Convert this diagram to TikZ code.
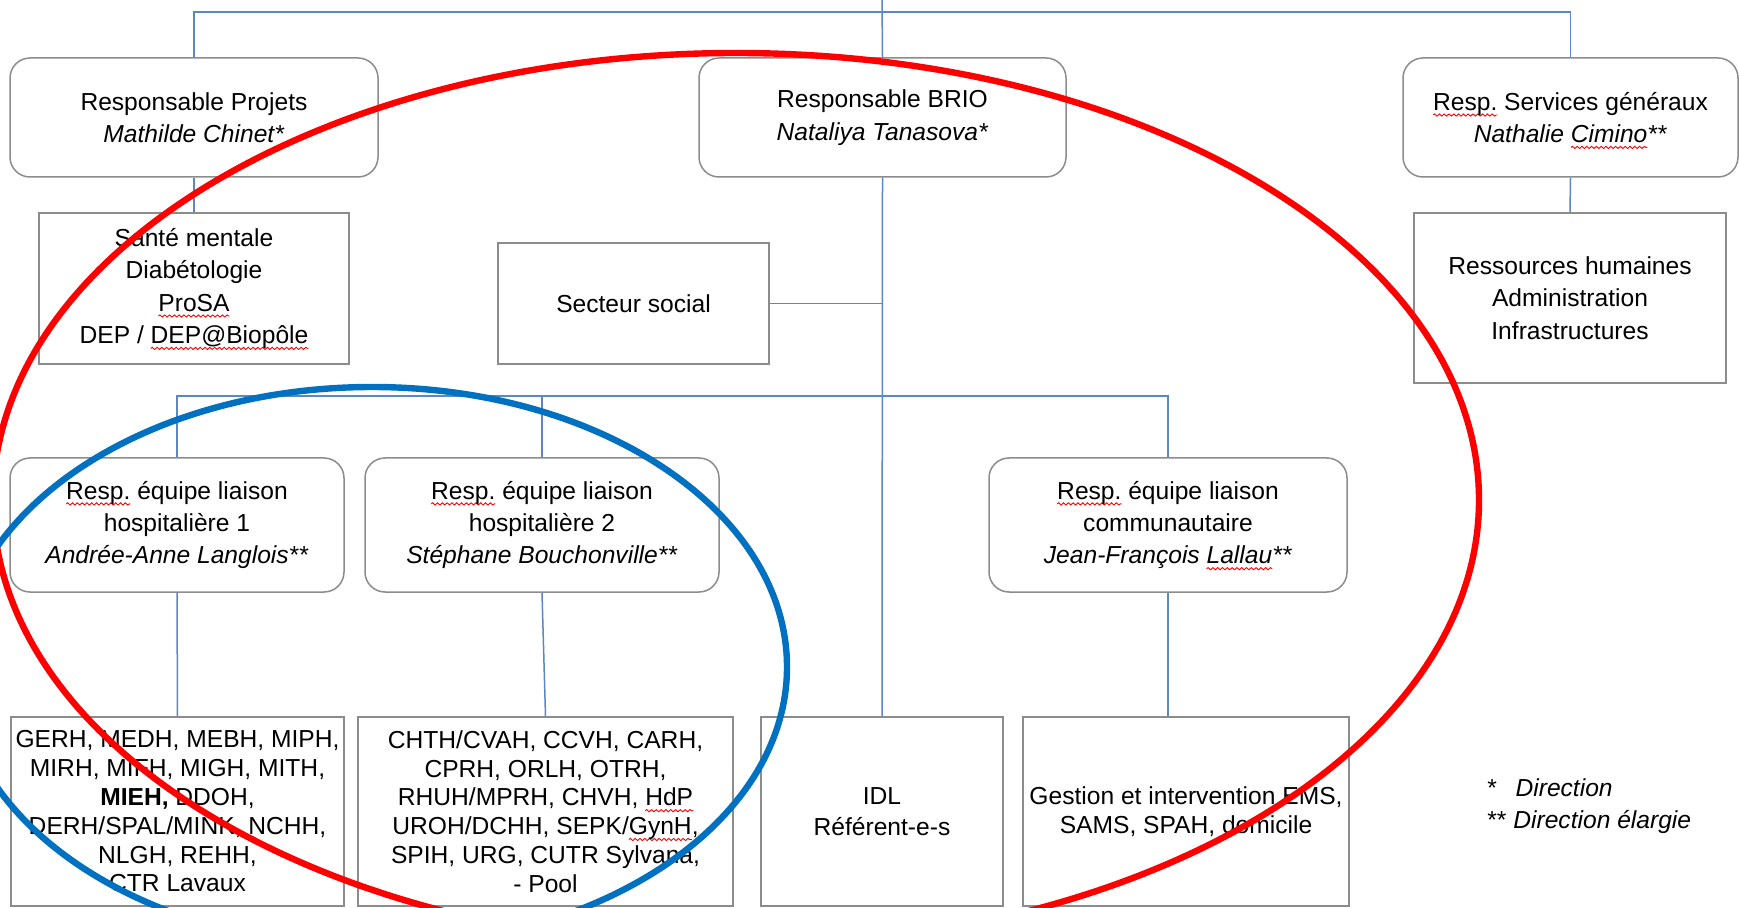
\documentclass[tikz,border=0pt]{standalone}
\usepackage{fontspec}
\setmainfont{Liberation Sans}
\usetikzlibrary{decorations.pathmorphing}
\definecolor{conn}{RGB}{91,135,197}
\definecolor{bord}{RGB}{140,140,140}
\definecolor{ellred}{RGB}{255,0,0}
\definecolor{ellblue}{RGB}{0,112,192}
\newcommand\sqw[1]{\setbox0\hbox{#1}\rlap{\tikz[overlay,baseline=0pt,x=1pt,y=1pt]\draw[ellred, line width=0.45pt, sharp corners, decorate, decoration={snake, amplitude=0.55pt, segment length=2.4pt}] (0pt,-2.4pt) -- (\wd0,-2.4pt);}#1}
\tikzset{
  txt/.style={font=\fontsize{12.3}{16.2}\selectfont\frenchspacing, align=center, inner sep=0pt},
  tight/.style={font=\fontsize{12.3}{14.4}\selectfont\frenchspacing},
  sqbox/.style={txt, draw=bord, line width=0.75pt, fill=white},
  rbox/.style={sqbox, rounded corners=10pt},
  link/.style={draw=conn, line width=0.75pt},
  ell/.style={line width=3.2pt}
}
\begin{document}
\begin{tikzpicture}[x=0.5pt,y=-0.5pt]
\useasboundingbox (0,0) rectangle (1739,908);
\fill[white] (0,0) rectangle (1739,908);
% level 1
\node[rbox, minimum width=184pt, minimum height=59.5pt] (proj) at (194,117.5) {Responsable Projets\\\textit{Mathilde Chinet*}};
\node[rbox, minimum width=183.5pt, minimum height=59.5pt] (brio) at (882.5,117.5) {Responsable BRIO\\\textit{Nataliya Tanasova*}};
\node[rbox, minimum width=167.5pt, minimum height=59.5pt] (serv) at (1570.5,117.5) {\sqw{Resp.} Services généraux\\\textit{Nathalie \sqw{Cimino}**}};
% level 2
\node[sqbox, minimum width=155pt, minimum height=75.5pt] (sante) at (194,288.5) {Santé mentale\\Diabétologie\\\sqw{ProSA}\\DEP / \sqw{DEP@Biopôle}};
\node[sqbox, minimum width=135.5pt, minimum height=60.5pt] (social) at (633.5,303.5) {Secteur social};
\node[sqbox, minimum width=156pt, minimum height=85pt] (rh) at (1570,298) {Ressources humaines\\Administration\\Infrastructures};
% level 3
\node[rbox, minimum width=167pt, minimum height=67pt] (l1) at (177,525) {\sqw{Resp.} équipe liaison\\hospitalière 1\\\textit{Andrée-Anne Langlois**}};
\node[rbox, minimum width=177pt, minimum height=67pt] (l2) at (542,525) {\sqw{Resp.} équipe liaison\\hospitalière 2\\\textit{Stéphane Bouchonville**}};
\node[rbox, minimum width=179pt, minimum height=67pt] (lc) at (1168,525) {\sqw{Resp.} équipe liaison\\communautaire\\\textit{Jean-François \sqw{Lallau}**}};
% level 4
\node[sqbox, tight, minimum width=166.5pt, minimum height=94.5pt] (b1) at (177.5,811.5) {GERH, MEDH, MEBH, MIPH,\\MIRH, MIFH, MIGH, MITH,\\\textbf{MIEH,} DDOH,\\DERH/SPAL/MINK, NCHH,\\NLGH, REHH,\\CTR Lavaux};
\node[sqbox, tight, minimum width=187.5pt, minimum height=94.5pt] (b2) at (545.5,811.5) {CHTH/CVAH, CCVH, CARH,\\CPRH, ORLH, OTRH,\\RHUH/MPRH, CHVH, \sqw{HdP}\\UROH/DCHH, SEPK/\sqw{GynH},\\SPIH, URG, CUTR Sylvana,\\- Pool};
\node[sqbox, font=\fontsize{12.3}{15.5}\selectfont, minimum width=121pt, minimum height=94.5pt] (idl) at (882,811.5) {IDL\\Référent-e-s};
\node[sqbox, tight, minimum width=163pt, minimum height=94.5pt] (ges) at (1186,811.5) {Gestion et intervention EMS,\\SAMS, SPAH, domicile};
% legend
\node[txt, anchor=west, align=left] (leg) at (1487,806) {*\hspace{9.3pt}\textit{Direction}\\** \textit{Direction élargie}};
% connectors
\coordinate (top) at (882,0);
\coordinate (bar) at (882,12);
\coordinate (mbar) at (882,396);
\draw[link] (top) -- (brio.north);
\draw[link] (proj.north) |- (bar) -| (serv.north);
\draw[link] (proj.south) -- (sante.north);
\draw[link] (serv.south) -- (rh.north);
\draw[link] (brio.south) -- (idl.north);
\draw[link] (social.east) -- (social.east -| brio.south);
\draw[link] (l1.north) |- (mbar) -| (lc.north);
\draw[link] (l2.north) -- (l2.north |- mbar);
\draw[link] (l1.south) -- (b1.north);
\draw[link] (l2.south) -- (b2.north);
\draw[link] (lc.south) -- (lc.south |- ges.north);
% ellipses
\begin{scope}
\clip (0,0) rectangle (1739,908);
\draw[ell, draw=ellred] (736,500) ellipse [x radius=743, y radius=447];
\draw[ell, draw=ellblue] (372,667) ellipse [x radius=415, y radius=280];
\end{scope}
\end{tikzpicture}
\end{document}
